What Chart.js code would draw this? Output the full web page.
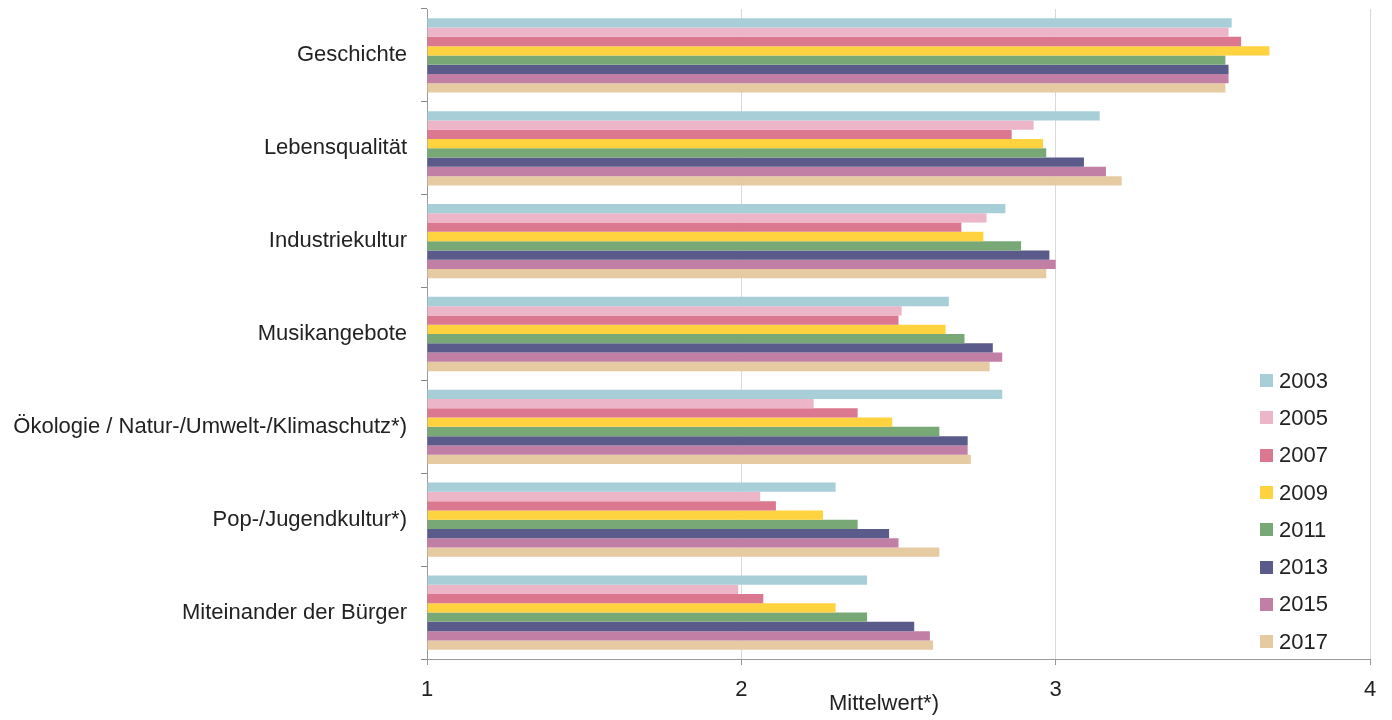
<!DOCTYPE html>
<html>
<head>
<meta charset="utf-8">
<script src="https://cdn.jsdelivr.net/npm/chart.js@4/dist/chart.umd.min.js"></script>
<style>
  html, body { margin: 0; padding: 0; background: #fff; }
  #wrap { position: relative; width: 1392px; height: 720px; }
  canvas { position: absolute; left: 0; top: 0; }
  #legend { position: absolute; left: 1260px; top: 362px; font-family: "Liberation Sans", Arial, sans-serif; font-size: 22px; color: #222; }
  #legend .item { height: 37.3px; display: flex; align-items: center; }
  #legend .sw { width: 13px; height: 13px; margin-right: 6px; }
  #xtitle { position: absolute; left: 0; width: 1768px; top: 690px; text-align: center; font-family: "Liberation Sans", Arial, sans-serif; font-size: 22px; color: #222; }
</style>
</head>
<body>
<div id="wrap">
  <canvas id="c" width="1392" height="720"></canvas>
  <div id="legend"></div>
  <div id="xtitle">Mittelwert*)</div>
</div>
<script>
const categories = [
  "Geschichte",
  "Lebensqualität",
  "Industriekultur",
  "Musikangebote",
  "Ökologie / Natur-/Umwelt-/Klimaschutz*)",
  "Pop-/Jugendkultur*)",
  "Miteinander der Bürger"
];
const years = ["2003", "2005", "2007", "2009", "2011", "2013", "2015", "2017"];
const colors = ["#A8CED8", "#EDB5C8", "#DB778F", "#FFD23F", "#77A876", "#5A5B8A", "#C27FA6", "#E6CBA2"];

const v2003 = [3.56, 3.14, 2.84, 2.66, 2.83, 2.30, 2.40];
const v2005 = [3.55, 2.93, 2.78, 2.51, 2.23, 2.06, 1.99];
const v2007 = [3.59, 2.86, 2.70, 2.50, 2.37, 2.11, 2.07];
const v2009 = [3.68, 2.96, 2.77, 2.65, 2.48, 2.26, 2.30];
const v2011 = [3.54, 2.97, 2.89, 2.71, 2.63, 2.37, 2.40];
const v2013 = [3.55, 3.09, 2.98, 2.80, 2.72, 2.47, 2.55];
const v2015 = [3.55, 3.16, 3.00, 2.83, 2.72, 2.50, 2.60];
const v2017 = [3.54, 3.21, 2.97, 2.79, 2.73, 2.63, 2.61];
const seriesValues = [v2003, v2005, v2007, v2009, v2011, v2013, v2015, v2017];

const xTicks = [1, 2, 3, 4];

const FONT = "'Liberation Sans', Arial, sans-serif";

const datasets = years.map((y, i) => ({
  label: y,
  data: seriesValues[i],
  backgroundColor: colors[i],
  borderWidth: 0,
  categoryPercentage: 0.8,
  barPercentage: 1.0,
  base: 1
}));

new Chart(document.getElementById("c"), {
  type: "bar",
  data: { labels: categories, datasets },
  options: {
    indexAxis: "y",
    responsive: false,
    animation: false,
    devicePixelRatio: 1,
    layout: { padding: { top: 9, right: 22, left: 0, bottom: 0 } },
    plugins: { legend: { display: false }, tooltip: { enabled: false } },
    scales: {
      x: {
        min: 1, max: 4,
        afterFit: (s) => { s.height = 61; s.paddingLeft = 0; s.paddingRight = 0; },
        afterBuildTicks: (s) => { s.ticks = xTicks.map(v => ({ value: v })); },
        grid: { color: "#d9d9d9", lineWidth: 1, tickLength: 6, tickColor: "#999" },
        border: { color: "#999", width: 1 },
        ticks: { padding: 12, font: { family: FONT, size: 22 }, color: "#222", maxRotation: 0 }
      },
      y: {
        afterFit: (s) => { s.width = 427; s.paddingTop = 0; s.paddingBottom = 0; },
        grid: { offset: true, drawOnChartArea: false, tickLength: 6, tickColor: "#888" },
        border: { color: "#999", width: 1 },
        ticks: { padding: 14, font: { family: FONT, size: 22 }, color: "#222" }
      }
    }
  }
});

const lg = document.getElementById("legend");
years.forEach((y, i) => {
  const d = document.createElement("div");
  d.className = "item";
  d.innerHTML = '<span class="sw" style="background:' + colors[i] + '"></span><span>' + y + '</span>';
  lg.appendChild(d);
});
</script>
</body>
</html>
